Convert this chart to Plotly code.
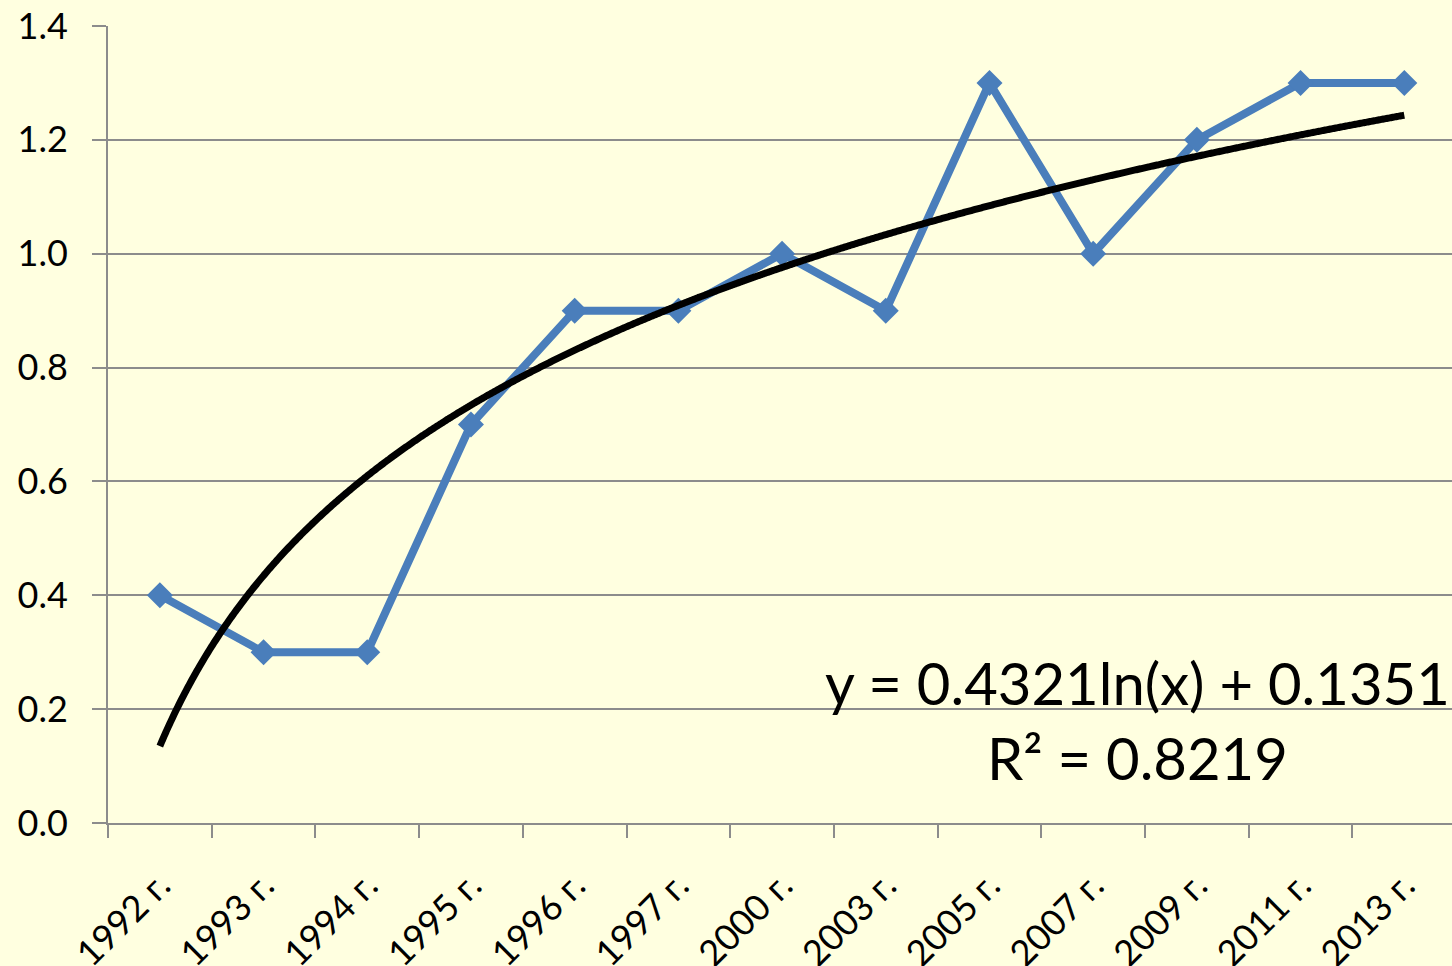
import numpy as np
import plotly.graph_objects as go

categories = ["1992 г.", "1993 г.", "1994 г.", "1995 г.", "1996 г.", "1997 г.", "2000 г.",
              "2003 г.", "2005 г.", "2007 г.", "2009 г.", "2011 г.", "2013 г."]
values = [0.4, 0.3, 0.3, 0.7, 0.9, 0.9, 1.0, 0.9, 1.3, 1.0, 1.2, 1.3, 1.3]
y_ticks = [0.0, 0.2, 0.4, 0.6, 0.8, 1.0, 1.2, 1.4]
equation_text = "y = 0.4321ln(x) + 0.1351"
r2_text = "R² = 0.8219"

# logarithmic trendline fitted on the data (x = 1..n, like a spreadsheet trendline)
n = len(values)
xi = np.arange(1, n + 1)
a, b = np.polyfit(np.log(xi), np.array(values), 1)
xs = np.linspace(1, n, 600)
ys = a * np.log(xs) + b

FONT = "Lato"
GRID = "#8c8c8c"
BLUE = "#4a7ebb"

fig = go.Figure()
fig.add_trace(go.Scatter(
    x=list(range(n)), y=values, mode="lines+markers",
    line=dict(color=BLUE, width=8),
    marker=dict(symbol="diamond", size=20, color=BLUE),
    showlegend=False, hoverinfo="skip"))
fig.add_trace(go.Scatter(
    x=xs - 1, y=ys, mode="lines",
    line=dict(color="black", width=7, simplify=False, shape="spline"),
    showlegend=False, hoverinfo="skip"))

fig.add_annotation(x=0.766, y=0.129, xref="paper", yref="paper",
                   text=equation_text + "<br>" + r2_text, showarrow=False,
                   xanchor="center", yanchor="middle", align="center",
                   font=dict(family=FONT, size=58, color="black"))

fig.update_layout(
    width=1452, height=966,
    margin=dict(l=108, r=0, t=26, b=143, autoexpand=False),
    paper_bgcolor="#ffffe0", plot_bgcolor="#ffffe0",
    font=dict(family=FONT, size=36, color="black"),
    xaxis=dict(
        range=[-0.5, 12.46], automargin=False,
        tickmode="array", tickvals=list(range(n)), ticktext=categories,
        tickangle=-45, ticks="", showgrid=False, zeroline=False,
        showline=True, linecolor=GRID, linewidth=2,
        tickfont=dict(family=FONT, size=36),
        ticklabelstandoff=25,
        minor=dict(tickmode="array", tickvals=[i - 0.5 for i in range(n + 1)],
                   ticks="outside", ticklen=13, tickwidth=2, tickcolor=GRID,
                   showgrid=False),
    ),
    yaxis=dict(
        range=[0, 1.4], tickmode="array", tickvals=y_ticks, automargin=False,
        tickformat=".1f", ticks="outside", ticklen=14, tickwidth=2, tickcolor=GRID,
        showgrid=True, gridcolor=GRID, gridwidth=2, zeroline=False,
        showline=True, linecolor=GRID, linewidth=2,
        tickfont=dict(family=FONT, size=36),
        ticklabelstandoff=17,
    ),
)

fig.write_html("out.html", config={"displayModeBar": False},
               post_script="document.body.style.margin='0';document.body.style.overflow='hidden';")
